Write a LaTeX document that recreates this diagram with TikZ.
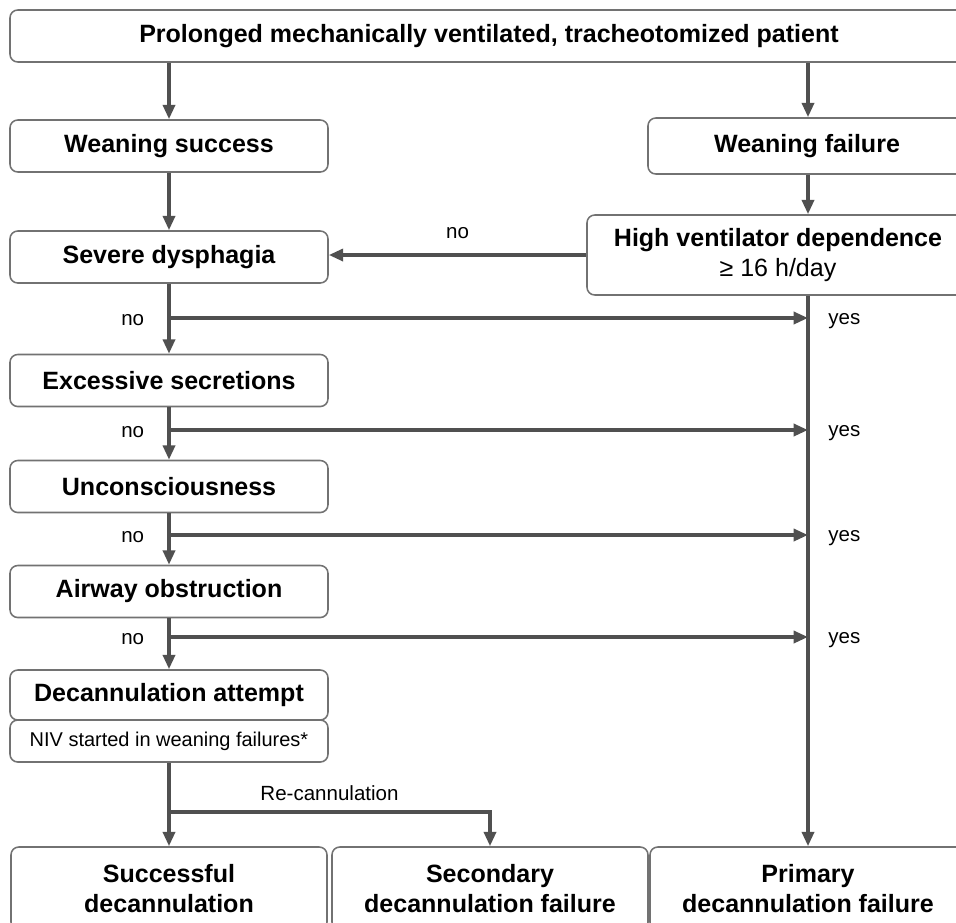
\documentclass[tikz,border=0pt]{standalone}
\usepackage{fontspec}
\setmainfont{Liberation Sans}
\definecolor{decline}{HTML}{505050}
\definecolor{decedge}{HTML}{727272}
\usetikzlibrary{arrows.meta,positioning}

\begin{document}
\begin{tikzpicture}[font=\fontsize{14.6}{17}\selectfont]
        \tikzset{
            decbox/.style={
                draw=decedge,
                fill=white,
                rounded corners=5.5pt,
                line width=1.1pt,
                minimum width=7.95cm,
                minimum height=1.3cm,
                align=center,
                font=\fontsize{17.8}{21.3}\selectfont\bfseries
            },
            decnote/.style={
                decbox,
                minimum height=1.05cm,
                font=\fontsize{14.2}{17}\selectfont
            },
            decend/.style={
                decbox,
                minimum width=7.9cm,
                minimum height=2.075cm
            },
            declabel/.style={
                inner sep=0.165cm,
                font=\fontsize{14.6}{17}\selectfont
            },
            decarrow/.style={
                -{Triangle[length=0.36cm,width=0.3cm]},
                draw=decline,
                line width=2.5pt
            }
        }

        \useasboundingbox (0,0) rectangle (23.9,-23.05);
        \clip (0,0) rectangle (23.9,-23.05);

        \node[decbox, minimum width=23.95cm] (patient) at (12.225,-0.9)
            {Prolonged mechanically ventilated, tracheotomized patient};
        \node[decbox] (success) at (4.225,-3.65) {Weaning success};
        \node[decbox, minimum height=1.4cm] (failure) at (20.175,-3.65)
            {Weaning failure};
        \node[decbox] (dysphagia) at (4.225,-6.425) {Severe dysphagia};
        \node[decbox, minimum width=9.55cm, minimum height=2cm] (ventilator)
            at (19.45,-6.375)
            {High ventilator dependence\\{\mdseries ≥ 16 h/day}};
        \node[decbox] (secretions) at (4.225,-9.5125) {Excessive secretions};
        \node[decbox] (unconscious) at (4.225,-12.1625) {Unconsciousness};
        \node[decbox] (airway) at (4.225,-14.7875) {Airway obstruction};
        \node[decbox, minimum height=1.25cm] (attempt) at (4.225,-17.375)
            {Decannulation attempt};
        \node[decnote] (niv) at (4.225,-18.525)
            {NIV started in weaning failures*};

        \node[decend] (decannulated) at (4.225,-22.2125)
            {Successful\\decannulation};
        \node[decend] (secondary) at (12.25,-22.2125)
            {Secondary\\decannulation failure};
        \node[decend] (primary) at (20.2,-22.2125)
            {Primary\\decannulation failure};

        \coordinate (nodysphagia) at (4.225,-7.95);
        \coordinate (nosecretions) at (4.225,-10.75);
        \coordinate (nounconscious) at (4.225,-13.375);
        \coordinate (noairway) at (4.225,-15.925);
        \coordinate (recannulation) at (4.225,-20.3);

        \draw[decarrow] (patient.south -| success) -- (success);
        \draw[decarrow] (patient.south -| primary) -- (failure.north -| primary);
        \draw[decarrow] (success) -- (dysphagia);
        \draw[decarrow] (failure.south -| primary) -- (ventilator.north -| primary);
        \draw[decarrow] (ventilator.west) --
            node[declabel, above=0.2cm] (noventilator) {no}
            (ventilator.west -| dysphagia.east);
        \draw[decarrow] (ventilator.south -| primary) -- (primary);

        \draw[decarrow] (dysphagia) -- (secretions);
        \draw[decarrow] (secretions) -- (unconscious);
        \draw[decarrow] (unconscious) -- (airway);
        \draw[decarrow] (airway) -- (attempt);
        \draw[decarrow] (niv) -- (decannulated);

        \draw[decarrow] (nodysphagia) -- (nodysphagia -| primary)
            node[declabel, right=0.3cm, yshift=-0.08cm] (yesdysphagia) {yes};
        \draw[decarrow] (nosecretions) -- (nosecretions -| primary)
            node[declabel, right=0.3cm, yshift=-0.08cm] (yessecretions) {yes};
        \draw[decarrow] (nounconscious) -- (nounconscious -| primary)
            node[declabel, right=0.3cm, yshift=-0.08cm] (yesunconscious) {yes};
        \draw[decarrow] (noairway) -- (noairway -| primary)
            node[declabel, right=0.3cm, yshift=-0.08cm] (yesairway) {yes};

        \node[declabel, left=0.45cm of nodysphagia, yshift=-0.06cm] (labdysphagia) {no};
        \node[declabel, left=0.45cm of nosecretions, yshift=-0.06cm] (labsecretions) {no};
        \node[declabel, left=0.45cm of nounconscious, yshift=-0.06cm] (labunconscious) {no};
        \node[declabel, left=0.45cm of noairway, yshift=-0.06cm] (labairway) {no};

        \draw[decarrow] (recannulation) -|
            node[declabel, above=0.08cm, pos=0.25] (recanlabel) {Re-cannulation}
            (secondary);
    \end{tikzpicture}
\end{document}
